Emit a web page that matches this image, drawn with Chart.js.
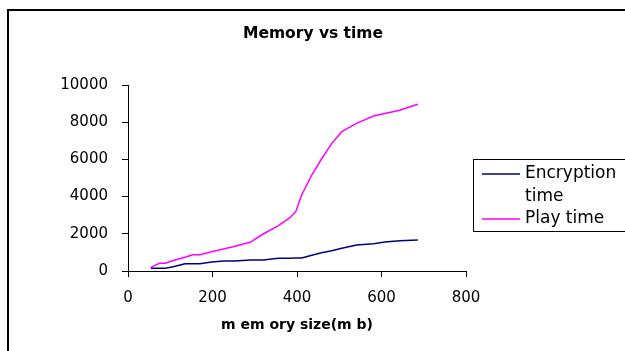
<!DOCTYPE html>
<html>
<head>
<meta charset="utf-8">
<title>Memory vs time</title>
<script src="https://cdn.jsdelivr.net/npm/chart.js@4.4.1/dist/chart.umd.min.js"></script>
<style>
  html, body { margin: 0; padding: 0; background: #fff; }
  #wrap { width: 625px; height: 351px; overflow: hidden; }
</style>
</head>
<body>
<div id="wrap"><canvas id="chart" width="625" height="351"></canvas></div>
<script>
"use strict";

const chartTitle = "Memory vs time";
const xAxisTitle = "m em ory size(m b)";
const seriesNames = ["Encryption time", "Play time"];
const seriesColors = ["#000080", "#ff00ff"];

const memorySizes = [54, 74, 88, 107, 135, 153, 170, 198, 226, 253, 289, 320, 356, 383, 397, 411, 435, 458, 482, 506, 541, 581, 608, 643, 686];
const encryptionTime = [143, 143, 143, 233, 394, 394, 394, 484, 538, 538, 591, 591, 681, 690, 695, 699, 850, 986, 1093, 1219, 1398, 1470, 1559, 1630, 1666];
const playTime = [198, 413, 413, 560, 736, 876, 876, 1040, 1180, 1326, 1541, 1989, 2440, 2868, 3190, 4086, 5161, 6021, 6850, 7489, 7940, 8333, 8470, 8640, 8962];

const xTicks = [0, 200, 400, 600, 800];
const yTicks = [0, 2000, 4000, 6000, 8000, 10000];

(() => {
  const font = "'DejaVu Sans', 'Liberation Sans', sans-serif";
  Chart.defaults.font.family = font;
  Chart.defaults.color = "#000";

  const toPoints = (values) => memorySizes.map((x, i) => ({ x, y: values[i] }));
  const plain = (value) => String(value);

  const wrapText = (ctx, text, maxWidth) => {
    const lines = [];
    let line = "";
    text.split(" ").forEach((word) => {
      const test = line ? `${line} ${word}` : word;
      if (line && ctx.measureText(test).width > maxWidth) {
        lines.push(line);
        line = word;
      } else {
        line = test;
      }
    });
    if (line) lines.push(line);
    return lines;
  };

  // outer frame, title and the boxed legend on the right
  const decorations = {
    id: "decorations",
    afterDraw(chart) {
      const { ctx } = chart;
      ctx.save();
      ctx.strokeStyle = "#000";
      ctx.lineWidth = 2;
      ctx.strokeRect(8, 10, 700, 400);

      ctx.fillStyle = "#000";
      ctx.font = `bold 15.5px ${font}`;
      ctx.textAlign = "center";
      ctx.textBaseline = "middle";
      ctx.fillText(chartTitle, 313, 34);

      ctx.lineWidth = 1;
      ctx.strokeRect(473.5, 159.5, 200, 72);
      ctx.font = `17px ${font}`;
      ctx.textAlign = "left";
      let y = 174;
      chart.data.datasets.forEach((ds) => {
        ctx.strokeStyle = ds.borderColor;
        ctx.lineWidth = 1.5;
        ctx.beginPath();
        ctx.moveTo(482, y);
        ctx.lineTo(520, y);
        ctx.stroke();
        wrapText(ctx, ds.label, 95).forEach((line) => {
          ctx.fillText(line, 525, y);
          y += 22.5;
        });
      });
      ctx.restore();
    },
  };

  const axisGrid = {
    drawOnChartArea: false,
    drawTicks: true,
    tickLength: 6,
    color: "#000",
  };

  new Chart(document.getElementById("chart"), {
    type: "line",
    data: {
      datasets: [
        { label: seriesNames[0], data: toPoints(encryptionTime), borderColor: seriesColors[0], borderWidth: 1.5 },
        { label: seriesNames[1], data: toPoints(playTime), borderColor: seriesColors[1], borderWidth: 1.5 },
      ],
    },
    options: {
      responsive: false,
      animation: false,
      devicePixelRatio: 1,
      layout: { padding: { top: 85, right: 159, left: 0, bottom: 0 } },
      elements: { point: { radius: 0 }, line: { tension: 0 } },
      plugins: { legend: { display: false }, title: { display: false }, tooltip: { enabled: false } },
      scales: {
        x: {
          type: "linear",
          min: 0,
          max: 800,
          afterBuildTicks: (s) => { s.ticks = xTicks.map((value) => ({ value })); },
          afterFit: (s) => { s.height = 80; },
          grid: axisGrid,
          border: { color: "#000", width: 1 },
          ticks: { padding: 12, font: { size: 15 }, color: "#000", callback: plain },
          title: { display: true, text: xAxisTitle, font: { size: 14, weight: "bold" }, color: "#000", padding: { top: 0, bottom: 17 } },
        },
        y: {
          min: 0,
          max: 10000,
          afterBuildTicks: (s) => { s.ticks = yTicks.map((value) => ({ value })); },
          afterFit: (s) => { s.width = 128; },
          grid: axisGrid,
          border: { color: "#000", width: 1 },
          ticks: { padding: 14, font: { size: 15 }, color: "#000", callback: plain },
        },
      },
    },
    plugins: [decorations],
  });
})();
</script>
</body>
</html>
